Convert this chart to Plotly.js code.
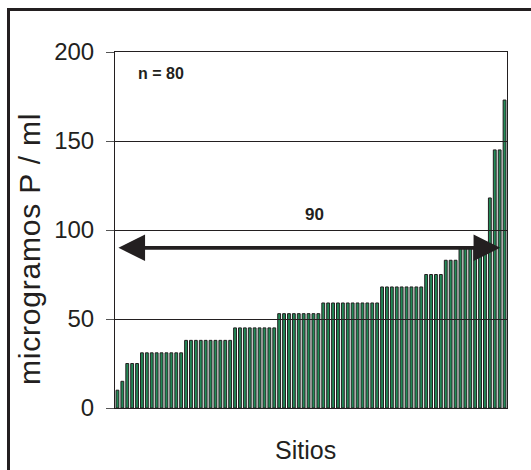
<!DOCTYPE html>
<html>
<head>
<meta charset="utf-8">
<script src="https://cdn.plot.ly/plotly-3.0.1.min.js"></script>
<style>
  html, body { margin: 0; padding: 0; background: #fff; }
  #wrap { position: relative; width: 531px; height: 470px; overflow: hidden; }
  #marco { position: absolute; left: 7px; top: 8px; width: 600px; height: 600px;
           border-left: 3px solid #231f20; border-top: 3px solid #231f20; pointer-events: none; }
  #chart { position: absolute; left: 0; top: 0; width: 531px; height: 470px; }
  /* slightly open tracking on the vertical axis title */
  #chart .annotation.titulo-y text { letter-spacing: 0.8px; }
  /* sharp reference lines */
  #chart .shapelayer path { shape-rendering: crispEdges; }
</style>
</head>
<body>
<div id="wrap">
  <div id="chart"></div>
  <div id="marco"></div>
</div>
<script>
// Fósforo (µg P / ml) en 80 sitios, ordenado de menor a mayor
const valores = [
  10, 15,
  25, 25, 25,
  31, 31, 31, 31, 31, 31, 31, 31, 31,
  38, 38, 38, 38, 38, 38, 38, 38, 38, 38,
  45, 45, 45, 45, 45, 45, 45, 45, 45,
  53, 53, 53, 53, 53, 53, 53, 53, 53,
  59, 59, 59, 59, 59, 59, 59, 59, 59, 59, 59, 59,
  68, 68, 68, 68, 68, 68, 68, 68, 68,
  75, 75, 75, 75,
  83, 83, 83,
  90, 90, 90, 90, 90, 90,
  118,
  145, 145,
  173
];
const yTicks = [0, 50, 100, 150, 200];
const percentil90 = 90;
const tituloY = 'microgramos P / ml';
const tituloX = 'Sitios';

const sitios = valores.map((_, i) => i);
const negro = '#231f20';
const fuente = 'Liberation Sans, Arial, sans-serif';

const trace = {
  type: 'bar',
  x: sitios,
  y: valores,
  marker: { color: '#238a57', line: { color: negro, width: 1 } },
  hoverinfo: 'y'
};

// horizontal reference lines drawn over the bars
const lineasGuia = yTicks.slice(1, -1).map(v => ({
  type: 'line', xref: 'paper', yref: 'y', x0: 0, x1: 1, y0: v, y1: v,
  layer: 'above', line: { color: negro, width: 1 }
}));

const layout = {
  width: 531, height: 470,
  margin: { l: 115, r: 24, t: 52, b: 62 },
  paper_bgcolor: 'rgba(0,0,0,0)',
  plot_bgcolor: '#fff',
  bargap: 0.42,
  showlegend: false,
  font: { family: fuente, color: negro },
  xaxis: {
    range: [-0.5, valores.length - 0.5],
    showticklabels: false, ticks: '', showgrid: false, zeroline: false,
    showline: true, mirror: true, linecolor: negro, linewidth: 1,
    layer: 'above traces'
  },
  yaxis: {
    range: [0, 200], tickvals: yTicks, ticktext: yTicks.map(String),
    ticks: 'outside', ticklen: 8, tickcolor: '#555', tickwidth: 1,
    ticklabelstandoff: 7,
    tickfont: { size: 24, family: fuente, color: negro },
    showgrid: false, zeroline: false,
    showline: true, mirror: true, linecolor: negro, linewidth: 1,
    layer: 'above traces'
  },
  shapes: lineasGuia,
  annotations: [
    { xref: 'paper', yref: 'paper', x: -0.217, y: 0.447, textangle: -90,
      text: tituloY, showarrow: false, xanchor: 'center', yanchor: 'middle',
      font: { size: 30, family: fuente, color: negro } },
    { xref: 'paper', yref: 'paper', x: 0.485, y: -0.118,
      text: tituloX, showarrow: false, xanchor: 'center', yanchor: 'middle',
      font: { size: 25, family: fuente, color: negro } },
    { xref: 'x', yref: 'y', x: 8.9, y: 188,
      text: '<b>n = ' + valores.length + '</b>', showarrow: false,
      font: { size: 16, family: fuente, color: negro } },
    { xref: 'x', yref: 'y', x: 40.3, y: 108.5,
      text: '<b>' + percentil90 + '</b>', showarrow: false,
      font: { size: 17, family: fuente, color: negro } },
    { xref: 'x', yref: 'y', axref: 'x', ayref: 'y',
      x: 78.1, y: percentil90, ax: -0.1, ay: percentil90,
      text: '', showarrow: true, arrowside: 'end+start',
      arrowhead: 2, startarrowhead: 2, arrowsize: 1.4, startarrowsize: 1.4,
      arrowwidth: 3.8, arrowcolor: negro }
  ]
};

Plotly.newPlot('chart', [trace], layout, { staticPlot: true, displayModeBar: false }).then(gd => {
  const notas = gd.querySelectorAll('.annotation');
  if (notas[0]) notas[0].classList.add('titulo-y');
});
</script>
</body>
</html>
